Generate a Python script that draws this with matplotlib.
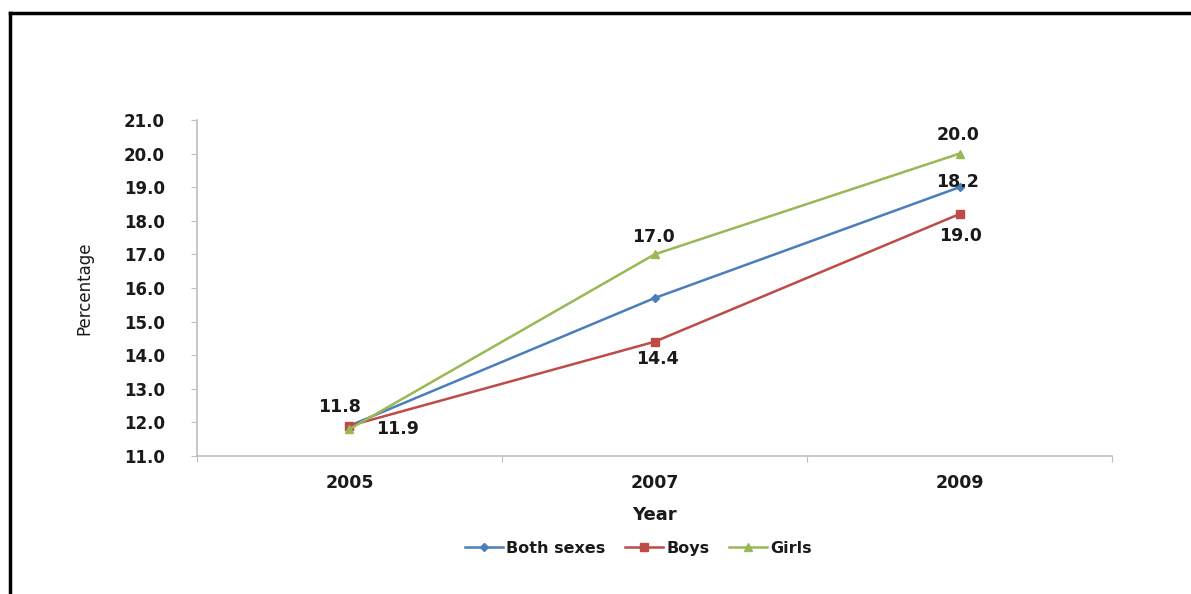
import matplotlib.pyplot as plt
import numpy as np

years = ["2005", "2007", "2009"]
both_sexes = [11.9, 15.7, 19.0]
boys = [11.9, 14.4, 18.2]
girls = [11.8, 17.0, 20.0]

y_ticks = np.arange(11.0, 21.5, 1.0)

# which points get a value label, and where it sits relative to the marker (pixels)
labels = [
    # (series, index, dx, dy)
    ("girls", 0, -10, 22),
    ("boys", 0, 48, -3),
    ("girls", 1, -1, 17),
    ("boys", 1, 3, -17),
    ("girls", 2, -1, 19),
    ("boys", 2, -2, 32),
    ("both", 2, 1, -49),
]

series = {
    "both": (both_sexes, "Both sexes", "#4a7ebb", "D", 4),
    "boys": (boys, "Boys", "#be4b48", "s", 6),
    "girls": (girls, "Girls", "#98b954", "^", 6),
}

fig = plt.figure(figsize=(11.91, 5.94), dpi=100)
ax = fig.add_axes([0.1654, 0.2323, 0.7683, 0.5657])

x = np.arange(len(years))
for key in ["both", "boys", "girls"]:
    vals, name, color, marker, ms = series[key]
    ax.plot(x, vals, color=color, lw=1.8, marker=marker, markersize=ms,
            markerfacecolor=color, markeredgecolor=color, label=name)

for key, i, dx, dy in labels:
    vals = series[key][0]
    ax.annotate(f"{vals[i]:.1f}", (x[i], vals[i]), xytext=(dx, dy),
                textcoords="offset pixels", ha="center", va="center",
                fontsize=12.5, fontweight="bold", color="#1a1a1a")

ax.set_xlim(-0.5, 2.5)
ax.set_ylim(11.0, 21.0)
ax.set_yticks(y_ticks)
ax.set_yticklabels([f"{v:.1f}" for v in y_ticks], fontsize=12, fontweight="bold",
                   color="#1a1a1a")

# category labels centred, tick marks on the category boundaries
ax.set_xticks([-0.5, 0.5, 1.5, 2.5])
ax.set_xticklabels([])
ax.set_xticks(x, minor=True)
ax.set_xticklabels(years, minor=True, fontsize=12.5, fontweight="bold",
                   color="#1a1a1a")
ax.tick_params(axis="x", which="minor", length=0, pad=13)
ax.tick_params(axis="x", which="major", length=4, color="#bfbfbf")
ax.tick_params(axis="y", length=4, color="#bfbfbf", pad=19)

for side in ["top", "right"]:
    ax.spines[side].set_visible(False)
for side in ["left", "bottom"]:
    ax.spines[side].set_color("#bfbfbf")
    ax.spines[side].set_linewidth(1.2)

ax.set_xlabel("Year", fontsize=13, fontweight="bold", labelpad=10, color="#1a1a1a")
ax.set_ylabel("Percentage", fontsize=12, fontweight="medium", labelpad=22,
              color="#1a1a1a")

fig.legend(loc="center", bbox_to_anchor=(0.536, 0.077), ncol=3, frameon=False,
           prop={"size": 11.5, "weight": "bold"}, handlelength=2.4,
           columnspacing=1.2, handletextpad=0.2, labelcolor="#1a1a1a")

# frame line on the left and top of the image
fig.add_artist(plt.Line2D([0.0088, 0.0088], [0.0, 0.978], color="black", lw=2.5,
                          transform=fig.transFigure))
fig.add_artist(plt.Line2D([0.0088, 1.0], [0.978, 0.978], color="black", lw=2.5,
                          transform=fig.transFigure))

fig.savefig("out.png", dpi=100)
